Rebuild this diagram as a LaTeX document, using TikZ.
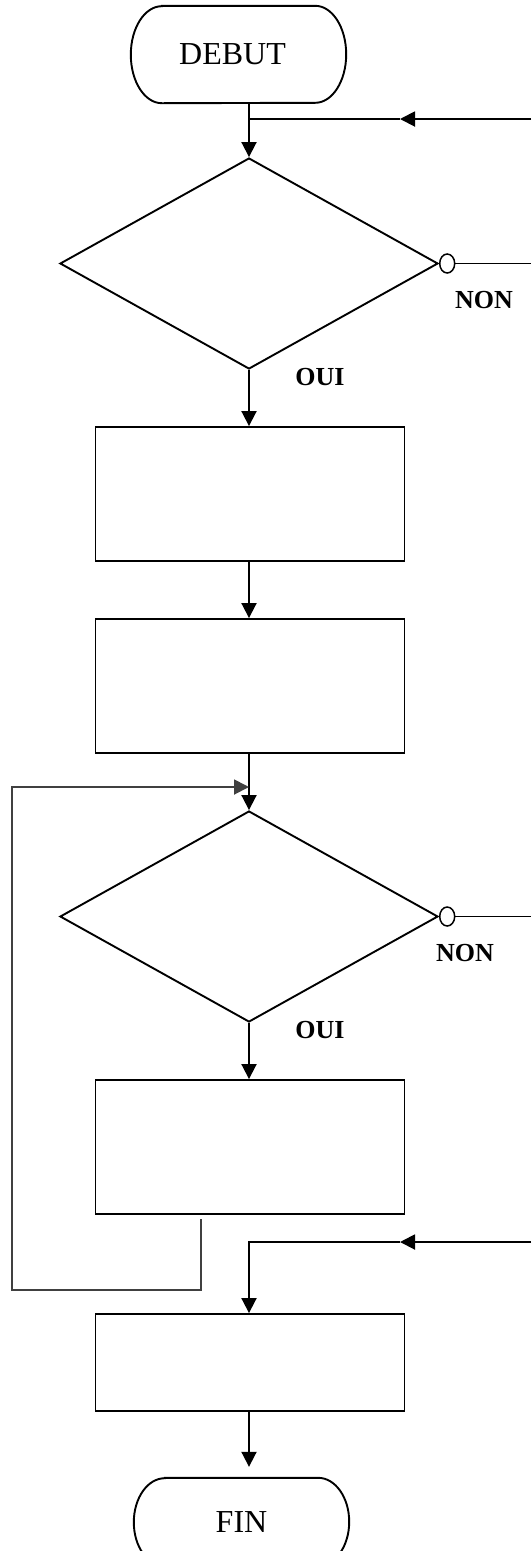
\documentclass[tikz,border=0pt]{standalone}
\usepackage{fontspec}
\setmainfont{Liberation Serif}
\usetikzlibrary{shapes.geometric,arrows.meta,calc}
\begin{document}
\begin{tikzpicture}[x=1pt,y=1pt,
  line/.style={line width=1.9pt},
  arr/.style={line, -{Triangle[length=15pt,width=15pt]}},
  term/.style={minimum width=215pt, minimum height=97pt, inner sep=0pt},
  termtext/.style={inner sep=0pt, font=\fontsize{32}{36}\selectfont},
  procbox/.style={draw, line, minimum width=309pt, minimum height=134pt, inner sep=0pt},
  decision/.style={draw, line, diamond, minimum width=378pt, minimum height=211pt, inner sep=0pt},
  knob/.style={draw, line width=1.5pt, fill=white, ellipse, minimum width=15pt, minimum height=19pt, inner sep=0pt, anchor=west},
  lbl/.style={inner sep=0pt, font=\bfseries\fontsize{26}{30}\selectfont},
  loopline/.style={line, draw=black!75},
  looparr/.style={loopline, -{Triangle[length=15pt,width=15pt]}}
]
\clip (0,0) rectangle (531,-1551);
\fill[white] (0,0) rectangle (531,-1551);

% terminals
\node[term] (debut) at (238.5,-54.5) {};
\node[termtext] (debuttext) at (232.5,-54.5) {DEBUT};
\draw[line] ($(debut.north west)+(31,0)$) -- ($(debut.north east)+(-31,0)$)
  arc[start angle=90,end angle=-90,x radius=31,y radius=48.5]
  -- ($(debut.south west)+(31,0)$)
  arc[start angle=270,end angle=90,x radius=31,y radius=48.5] -- cycle;

\node[term, minimum height=88pt] (fin) at (241.5,-1522) {};
\node[termtext] (fintext) at (241.5,-1522) {FIN};
\draw[line] ($(fin.north west)+(31,0)$) -- ($(fin.north east)+(-31,0)$)
  arc[start angle=90,end angle=-90,x radius=31,y radius=44]
  -- ($(fin.south west)+(31,0)$)
  arc[start angle=270,end angle=90,x radius=31,y radius=44] -- cycle;

% decisions
\node[decision] (d1) at (249,-263.5) {};
\node[knob] (k1) at (d1.east) {};
\node[decision] (d2) at (249,-916.5) {};
\node[knob] (k2) at (d2.east) {};

% process boxes
\node[procbox] (b1) at (250,-494) {};
\node[procbox] (b2) at (250,-686) {};
\node[procbox] (b3) at (250,-1147) {};
\node[procbox, minimum height=97pt] (b4) at (250,-1362.5) {};

% labels
\node[lbl] (oui1) at (320,-377) {OUI};
\node[lbl] (non1) at (484,-300) {NON};
\node[lbl] (oui2) at (320,-1030) {OUI};
\node[lbl] (non2) at (465,-953) {NON};

% coordinates
\coordinate (j1) at (249,-119);
\coordinate (t1) at (400,-119);
\coordinate (e1) at (531,-119);
\coordinate (n1) at (531,-263.5);
\coordinate (n2) at (531,-916.5);
\coordinate (j3) at (249,-1242);
\coordinate (t3) at (400,-1242);
\coordinate (e3) at (531,-1242);
\coordinate (l0) at (201,-1219);
\coordinate (l1) at (201,-1290);
\coordinate (l2) at (12,-1290);
\coordinate (l3) at (12,-787);
\coordinate (j2) at (249,-787);

% main flow
\draw[arr] (debut.south -| d1.north) -- (d1.north);
\draw[arr] (e1) -- (t1);
\draw[line] (t1) -- (j1);
\draw[line] (k1.east) -- (n1);
\draw[arr] (d1.south) -- (d1.south |- b1.north);
\draw[arr] (b1.south -| d1.south) -- (d1.south |- b2.north);
\draw[arr] (b2.south -| d2.north) -- (d2.north);
\draw[line] (k2.east) -- (n2);
\draw[arr] (d2.south) -- (d2.south |- b3.north);
\draw[looparr] (l0) -- (l1) -- (l2) -- (l3) -- (j2);
\draw[arr] (e3) -- (t3);
\draw[arr] (t3) -- (j3) -- (j3 |- b4.north);
\draw[arr, shorten >=11pt] (b4.south -| j3) -- (fin.north -| j3);
\end{tikzpicture}
\end{document}
